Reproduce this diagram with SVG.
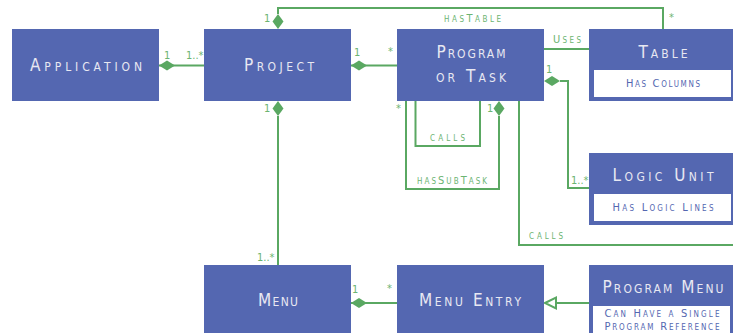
<svg xmlns="http://www.w3.org/2000/svg" width="733" height="333" viewBox="0 0 733 333">
<style>
.box{fill:#5467b1}
.inner{fill:#ffffff}
.t{font-family:"DejaVu Sans Condensed","DejaVu Sans",sans-serif;font-variant:small-caps;fill:#e8e8f2;font-size:17px;text-anchor:middle}
.s{font-family:"DejaVu Sans Condensed","DejaVu Sans",sans-serif;font-variant:small-caps;fill:#5467b1;font-size:11px;text-anchor:middle}
.l{font-family:"DejaVu Sans Condensed","DejaVu Sans",sans-serif;font-variant:small-caps;fill:#6cb472;font-size:11px}
.n{font-family:"DejaVu Sans Condensed","DejaVu Sans",sans-serif;fill:#6cb472;font-size:11px}
.c{fill:none;stroke:#5aa862;stroke-width:2}
.d{fill:#5aa862}
</style>
<rect width="733" height="333" fill="#ffffff"/>
<g id="connectors">
<path class="c" d="M159 65.5H204"/>
<path class="d" d="M159 65.5L167 60.5L175 65.5L167 70.5Z"/>
<path class="c" d="M351 65.5H397"/>
<path class="d" d="M351 65.5L359 60.5L367 65.5L359 70.5Z"/>
<path class="c" d="M278 14V8H663V29"/>
<path class="d" d="M278 29L272.5 21.5L278 14L283.5 21.5Z"/>
<path class="c" d="M544 49H589"/>
<path class="c" d="M560 81H568V188H589"/>
<path class="d" d="M544 81L552 76L560 81L552 86Z"/>
<path class="c" d="M415.5 101V146H480V101"/>
<path class="c" d="M406 101V189H499V116"/>
<path class="d" d="M499 101L504.5 108.5L499 116L493.5 108.5Z"/>
<path class="c" d="M519 101V245H733"/>
<path class="c" d="M278 116V265"/>
<path class="d" d="M278 101L283.5 108.5L278 116L272.5 108.5Z"/>
<path class="c" d="M351 303H397"/>
<path class="d" d="M351 303L359 298L367 303L359 308Z"/>
<path class="c" d="M556 303H589"/>
<path d="M545 303L556 297.5V308.5Z" fill="#ffffff" stroke="#5aa862" stroke-width="2"/>
<path class="c" d="M726 320H733"/>
<circle class="d" cx="726" cy="320" r="2.5"/>
<text class="n" x="164" y="59">1</text>
<text class="n" x="186" y="59">1..*</text>
<text class="n" x="354" y="56">1</text>
<text class="n" x="388" y="55">*</text>
<text class="n" x="264" y="22">1</text>
<text class="n" x="669" y="21">*</text>
<text class="l" x="444" y="22" textLength="57" lengthAdjust="spacing">hasTable</text>
<text class="l" x="553" y="43" textLength="28" lengthAdjust="spacing">Uses</text>
<text class="n" x="546" y="73">1</text>
<text class="n" x="396" y="112">*</text>
<text class="n" x="487" y="112">1</text>
<text class="l" x="430" y="141" textLength="35" lengthAdjust="spacing">calls</text>
<text class="l" x="417" y="184" textLength="70" lengthAdjust="spacing">hasSubTask</text>
<text class="n" x="571" y="184">1..*</text>
<text class="l" x="529" y="239" textLength="34" lengthAdjust="spacing">calls</text>
<text class="n" x="264" y="112">1</text>
<text class="n" x="257" y="261">1..*</text>
<text class="n" x="352" y="293">1</text>
<text class="n" x="387" y="292">*</text>
</g>
<g id="application">
<rect class="box" x="12" y="29" width="147" height="72"/>
<text class="t" x="86" y="71" textLength="112" lengthAdjust="spacing">Application</text>
</g>
<g id="project">
<rect class="box" x="204" y="29" width="147" height="72"/>
<text class="t" x="279" y="71" textLength="70" lengthAdjust="spacing">Project</text>
</g>
<g id="program">
<rect class="box" x="397" y="29" width="147" height="72"/>
<text class="t" x="471" y="58" textLength="69" lengthAdjust="spacing">Program</text>
<text class="t" x="471" y="82" textLength="70" lengthAdjust="spacing">or Task</text>
</g>
<g id="table">
<rect class="box" x="589" y="29" width="146" height="72"/>
<text class="t" x="663" y="58" textLength="49" lengthAdjust="spacing">Table</text>
<rect class="inner" x="594" y="70" width="137" height="27"/>
<text class="s" x="663" y="87" textLength="74" lengthAdjust="spacing">Has Columns</text>
</g>
<g id="logicunit">
<rect class="box" x="589" y="153" width="146" height="72"/>
<text class="t" x="663" y="181" textLength="101" lengthAdjust="spacing">Logic Unit</text>
<rect class="inner" x="594" y="194" width="137" height="27"/>
<text class="s" x="663" y="211" textLength="101" lengthAdjust="spacing">Has Logic Lines</text>
</g>
<g id="menu">
<rect class="box" x="204" y="265" width="147" height="72"/>
<text class="t" x="278" y="306" textLength="40" lengthAdjust="spacing">Menu</text>
</g>
<g id="menuentry">
<rect class="box" x="397" y="265" width="147" height="72"/>
<text class="t" x="470" y="306" textLength="102" lengthAdjust="spacing">Menu Entry</text>
</g>
<g id="programmenu">
<rect class="box" x="589" y="265" width="146" height="72"/>
<text class="t" x="663" y="293" textLength="121" lengthAdjust="spacing">Program Menu</text>
<rect class="inner" x="593" y="306" width="137" height="30"/>
<text class="s" x="662" y="317" textLength="115" lengthAdjust="spacing">Can Have a Single</text>
<text class="s" x="662" y="330" textLength="115" lengthAdjust="spacing">Program Reference</text>
</g>
</svg>
